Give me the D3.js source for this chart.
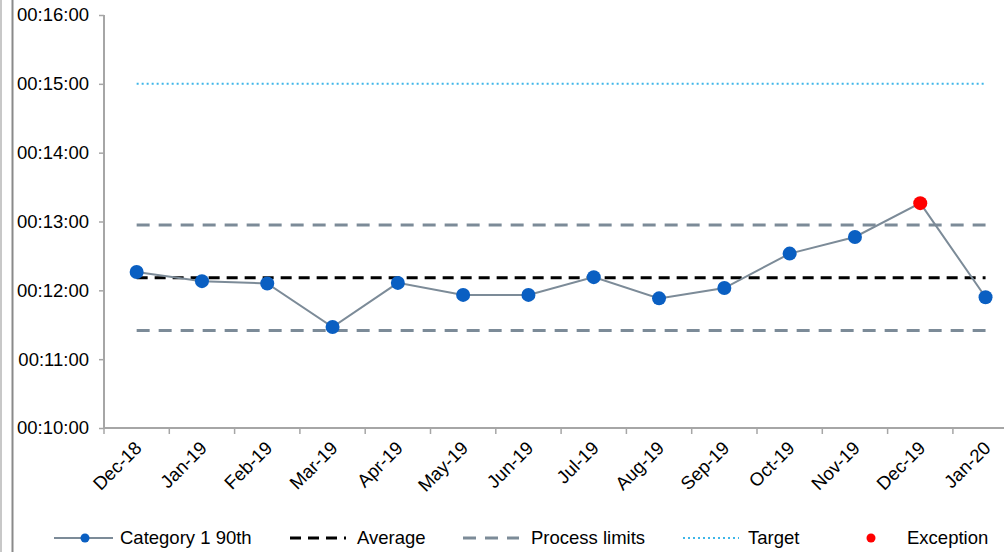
<!DOCTYPE html>
<html><head><meta charset="utf-8">
<script src="https://cdn.jsdelivr.net/npm/d3@7"></script>
<style>body{margin:0;background:#fff;}svg{display:block;font-family:"Liberation Sans",Arial,sans-serif;}</style>
</head><body>
<svg id="c" width="1004" height="552"></svg>
<script>
const categories = ["Dec-18","Jan-19","Feb-19","Mar-19","Apr-19","May-19","Jun-19","Jul-19","Aug-19","Sep-19","Oct-19","Nov-19","Dec-19","Jan-20"];
// values in seconds (mm:ss past 00:00:00)
const values = [736, 728, 726, 688, 726.5, 716, 716, 731.5, 713, 722, 752, 766.5, 796, 714];
const exceptionIdx = [12];
const averageValue = 731;
const upperLimit = 777;
const lowerLimit = 685;
const targetValue = 900;
const yTicks = [600, 660, 720, 780, 840, 900, 960];
const legendItems = ["Category 1 90th","Average","Process limits","Target","Exception"];

const svg = d3.select("#c");
const fmt = s => { const m = Math.floor(s/60), sec = Math.round(s%60); return "00:" + String(m).padStart(2,"0") + ":" + String(sec).padStart(2,"0"); };

const x = d3.scaleBand().domain(categories).range([104, 104 + 14*65.3]).padding(0);
const y = d3.scaleLinear().domain([600, 960]).range([428, 15]);
const cx = d => x(d) + x.bandwidth()/2;

// outer borders on left
svg.append("line").attr("x1",1).attr("x2",1).attr("y1",0).attr("y2",552).attr("stroke","#c8c8c8").attr("stroke-width",2);
svg.append("line").attr("x1",12.5).attr("x2",12.5).attr("y1",0).attr("y2",552).attr("stroke","#8a8a8a").attr("stroke-width",2);

const axisColor = "#a6a6a6";
// y axis
const ya = svg.append("g").attr("transform","translate(104,0)").call(d3.axisLeft(y).tickValues(yTicks).tickFormat(fmt).tickSize(5).tickPadding(10));
ya.select(".domain").attr("stroke",axisColor).attr("stroke-width",2).attr("d","M0,15V428");
ya.selectAll(".tick line").attr("stroke",axisColor).attr("stroke-width",1.5);
ya.selectAll(".tick text").attr("font-size","18.5px").attr("fill","#000").attr("font-family","Liberation Sans, Arial, sans-serif");

// x axis
const xa = svg.append("g").attr("transform","translate(0,428)");
xa.append("line").attr("x1",104).attr("x2",1004).attr("y1",0).attr("y2",0).attr("stroke",axisColor).attr("stroke-width",2);
const bounds = categories.map(c => x(c)).concat([x(categories[categories.length-1]) + x.bandwidth()]);
xa.selectAll("line.tk").data(bounds).join("line").attr("class","tk")
  .attr("x1",d=>d).attr("x2",d=>d).attr("y1",0).attr("y2",6).attr("stroke",axisColor).attr("stroke-width",1.5);
xa.selectAll("text").data(categories).join("text")
  .attr("transform", d => `translate(${cx(d)-3},${12}) rotate(-45)`)
  .attr("text-anchor","end").attr("dy","0.7em")
  .attr("font-size","18.5px").attr("fill","#000").text(d=>d);

const x0 = cx(categories[0]), x1 = cx(categories[categories.length-1]);
// target
svg.append("line").attr("x1",x0).attr("x2",x1).attr("y1",y(targetValue)).attr("y2",y(targetValue))
  .attr("stroke","#3fb6e8").attr("stroke-width",2).attr("stroke-dasharray","2,3");
// process limits
[upperLimit, lowerLimit].forEach(v => {
  svg.append("line").attr("x1",x0).attr("x2",x1).attr("y1",y(v)).attr("y2",y(v))
    .attr("stroke","#7c8b98").attr("stroke-width",3).attr("stroke-dasharray","13,9");
});
// average
svg.append("line").attr("x1",x0).attr("x2",x1).attr("y1",y(averageValue)).attr("y2",y(averageValue))
  .attr("stroke","#000").attr("stroke-width",3).attr("stroke-dasharray","11,7");

// series line
const line = d3.line().x((d,i)=>cx(categories[i])).y(d=>y(d));
svg.append("path").datum(values).attr("d",line).attr("fill","none").attr("stroke","#7c8b98").attr("stroke-width",2);
svg.selectAll("circle.pt").data(values).join("circle").attr("class","pt")
  .attr("cx",(d,i)=>cx(categories[i])).attr("cy",d=>y(d)).attr("r",7)
  .attr("fill",(d,i)=>exceptionIdx.includes(i) ? "#ff0000" : "#0a5fc2");

// legend
const ly = 538;
const lg = svg.append("g").attr("font-size","18.5px");
lg.append("line").attr("x1",54).attr("x2",113).attr("y1",ly).attr("y2",ly).attr("stroke","#7c8b98").attr("stroke-width",2);
lg.append("circle").attr("cx",85).attr("cy",ly).attr("r",4.5).attr("fill","#0a5fc2");
lg.append("text").attr("x",120).attr("y",ly).attr("dy","0.35em").text(legendItems[0]);
lg.append("line").attr("x1",290).attr("x2",346).attr("y1",ly).attr("y2",ly).attr("stroke","#000").attr("stroke-width",3).attr("stroke-dasharray","11,7");
lg.append("text").attr("x",357).attr("y",ly).attr("dy","0.35em").text(legendItems[1]);
lg.append("line").attr("x1",463).attr("x2",519).attr("y1",ly).attr("y2",ly).attr("stroke","#7c8b98").attr("stroke-width",3).attr("stroke-dasharray","13,9");
lg.append("text").attr("x",531).attr("y",ly).attr("dy","0.35em").text(legendItems[2]);
lg.append("line").attr("x1",683).attr("x2",739).attr("y1",ly).attr("y2",ly).attr("stroke","#3fb6e8").attr("stroke-width",2).attr("stroke-dasharray","2,3");
lg.append("text").attr("x",748).attr("y",ly).attr("dy","0.35em").text(legendItems[3]);
lg.append("circle").attr("cx",871).attr("cy",ly).attr("r",4.5).attr("fill","#ff0000");
lg.append("text").attr("x",907).attr("y",ly).attr("dy","0.35em").text(legendItems[4]);
</script>
</body></html>
